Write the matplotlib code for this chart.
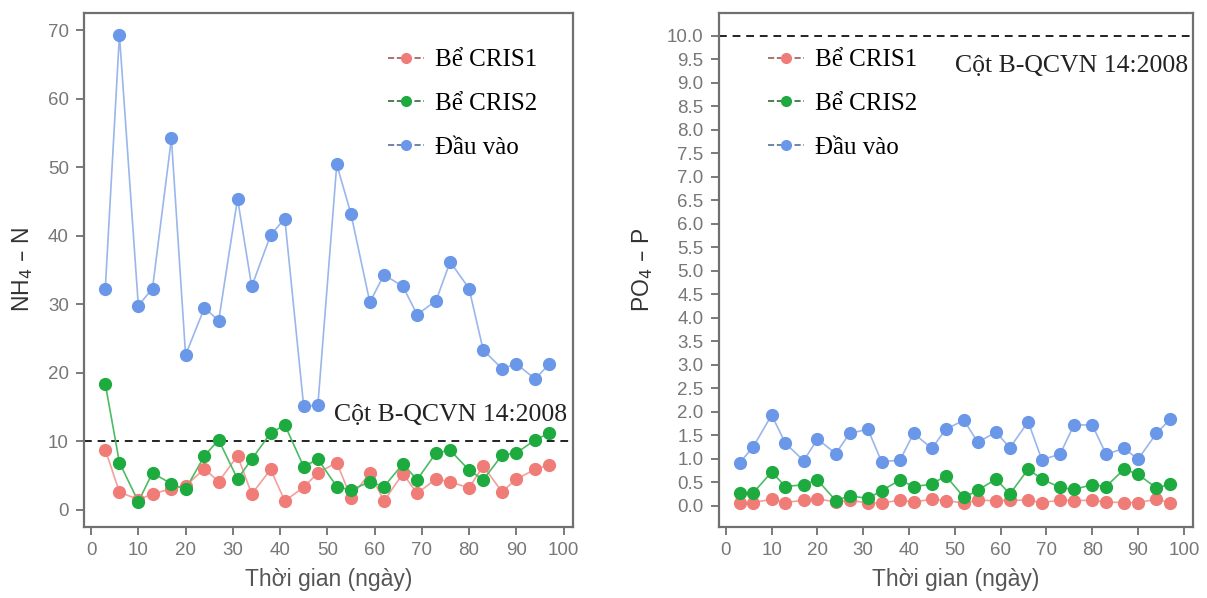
import matplotlib
matplotlib.use("Agg")
import matplotlib.pyplot as plt
from matplotlib.lines import Line2D

days = [3, 6, 10, 13, 17, 20, 24, 27, 31, 34, 38, 41, 45, 48, 52, 55, 59, 62,
        66, 69, 73, 76, 80, 83, 87, 90, 94, 97]

nh4_cris1 = [8.8, 2.6, 1.5, 2.3, 3.1, 3.5, 6.0, 4.1, 7.9, 2.3, 5.9, 1.3, 3.3, 5.4,
             6.9, 1.8, 5.4, 1.3, 5.3, 2.4, 4.5, 4.1, 3.2, 6.4, 2.6, 4.5, 5.9, 6.6]
nh4_cris2 = [18.4, 6.9, 1.2, 5.4, 3.8, 3.0, 7.9, 10.2, 4.5, 7.4, 11.2, 12.4, 6.3, 7.4,
             3.4, 2.9, 4.1, 3.4, 6.7, 4.4, 8.3, 8.7, 5.8, 4.4, 8.0, 8.3, 10.2, 11.2]
nh4_input = [32.2, 69.3, 29.8, 32.3, 54.2, 22.6, 29.5, 27.6, 45.4, 32.6, 40.1, 42.5,
             15.1, 15.3, 50.4, 43.2, 30.3, 34.3, 32.6, 28.5, 30.5, 36.2, 32.3, 23.3,
             20.6, 21.3, 19.1, 21.3]

po4_cris1 = [0.07, 0.07, 0.14, 0.07, 0.12, 0.15, 0.08, 0.12, 0.06, 0.06, 0.12, 0.08,
             0.14, 0.11, 0.06, 0.12, 0.11, 0.12, 0.12, 0.07, 0.12, 0.11, 0.12, 0.08,
             0.07, 0.07, 0.14, 0.07]
po4_cris2 = [0.28, 0.28, 0.72, 0.41, 0.45, 0.55, 0.11, 0.21, 0.16, 0.32, 0.55, 0.41,
             0.46, 0.64, 0.18, 0.33, 0.57, 0.25, 0.78, 0.57, 0.39, 0.35, 0.45, 0.41,
             0.78, 0.67, 0.38, 0.46]
po4_input = [0.91, 1.26, 1.93, 1.33, 0.96, 1.42, 1.11, 1.54, 1.63, 0.94, 0.97, 1.54,
             1.22, 1.63, 1.82, 1.35, 1.57, 1.23, 1.79, 0.98, 1.10, 1.72, 1.72, 1.10,
             1.22, 0.99, 1.54, 1.84]

nh4_limit = 10
po4_limit = 10
series_names = ["Bể CRIS1", "Bể CRIS2", "Đầu vào"]
limit_label = "Cột B-QCVN 14:2008"
xlabel = "Thời gian (ngày)"

colors = ["#F07C78", "#1DAA3E", "#6A97E8"]
line_colors = ["#F3A09C", "#4CBB63", "#9AB6EC"]

plt.rcParams['font.family'] = ['Liberation Sans', 'DejaVu Sans']
serif = ['Liberation Serif', 'DejaVu Serif']

fig = plt.figure(figsize=(12.07, 5.98), dpi=100)
ax1 = fig.add_axes([84/1207, 1-527/598, (573-84)/1207, (527-13)/598])
ax2 = fig.add_axes([719/1207, 1-527/598, (1193-719)/1207, (527-13)/598])

def style(ax):
    for s in ax.spines.values():
        s.set_color('#707070')
        s.set_linewidth(1.6)
    ax.tick_params(direction='out', length=6, width=1.3, color='#707070',
                   labelcolor='#777777', labelsize=13.5, pad=5)
    ax.set_xlim(-1.5, 102)
    ax.set_xticks(range(0, 101, 10))
    ax.set_xlabel(xlabel, fontsize=16.5, color='#555555', labelpad=6)

def draw(ax, vals):
    for v, c, lc in zip(vals, colors, line_colors):
        ax.plot(days, v, color=lc, lw=1.2, zorder=2)
        ax.plot(days, v, ls='none', marker='o', ms=8.5, color=c, mec=c, zorder=3)

def legend(ax, anchor):
    handles = [Line2D([], [], color=lc, ls='--', lw=1.2, marker='o', ms=7,
                      mfc=c, mec=c) for c, lc in zip(colors, ['#9a5a58', '#2e6b3c', '#5a6f96'])]
    ax.legend(handles, series_names, loc='upper left', bbox_to_anchor=anchor,
              frameon=False, prop={'family': serif, 'size': 18},
              handlelength=1.45, labelspacing=0.85, handletextpad=0.45)

# Left panel
style(ax1)
draw(ax1, [nh4_cris1, nh4_cris2, nh4_input])
ax1.axhline(nh4_limit, color='#222222', ls='--', lw=1.4, dashes=(4, 3), zorder=1)
ax1.set_ylim(-2.5, 72.5)
ax1.set_yticks(range(0, 71, 10))
ax1.set_ylabel("NH$_4$ – N", fontsize=16.5, color='#333333', labelpad=9)
ax1.text(100.8, 13.8, limit_label, family=serif, fontsize=18.5, ha='right',
         va='center', color='#222222')
legend(ax1, (0.575, 0.974))

# Right panel
style(ax2)
draw(ax2, [po4_cris1, po4_cris2, po4_input])
ax2.axhline(po4_limit, color='#222222', ls='--', lw=1.4, dashes=(4, 3), zorder=1)
ax2.set_ylim(-0.45, 10.48)
ax2.set_yticks([i * 0.5 for i in range(21)])
ax2.set_yticklabels([f"{i*0.5:.1f}" for i in range(21)])
ax2.set_ylabel("PO$_4$ – P", fontsize=16.5, color='#333333', labelpad=9)
ax2.text(101, 9.35, limit_label, family=serif, fontsize=18.5, ha='right',
         va='center', color='#222222')
legend(ax2, (0.055, 0.974))

fig.savefig("out.png", dpi=100)
